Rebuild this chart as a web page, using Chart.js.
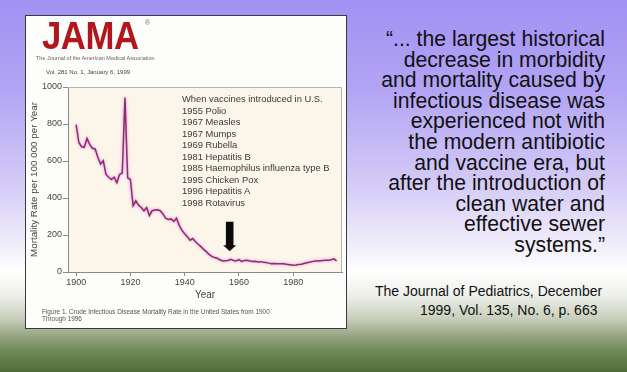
<!DOCTYPE html>
<html lang="en">
<head>
<meta charset="UTF-8">
<title>Crude Infectious Disease Mortality</title>
<script src="https://cdn.jsdelivr.net/npm/chart.js"></script>
<style>
  html, body { margin: 0; padding: 0; }
  body {
    width: 627px; height: 372px; overflow: hidden; position: relative;
    font-family: "Liberation Sans", Arial, sans-serif;
    background: linear-gradient(to bottom,
      #a291f3 0px, #b2a4f4 90px, #d2c9f7 180px, #f3f0fb 250px, #ffffff 272px,
      #eef0ea 295px, #c9cfbd 318px, #96a583 336px, #6d8756 352px, #4f6c38 372px);
  }
  #box {
    position: absolute; left: 25px; top: 15px; width: 322px; height: 314px;
    background: #fdfdfb; border: 1px solid #3a3a3a; box-sizing: border-box;
  }
  #grafica { position: absolute; left: 0; top: 0; }
  .abs { position: absolute; white-space: nowrap; }
  #jama {
    left: 16px; top: -2px; font-size: 39px; font-weight: bold; color: #b3151d;
    transform: scaleX(0.89); transform-origin: left top; letter-spacing: -0.5px;
  }
  #reg { left: 119px; top: 3px; font-size: 7px; color: #777; }
  #journal { left: 10px; top: 39px; font-size: 5.5px; color: #666; }
  #vol { left: 20px; top: 53px; font-size: 6px; color: #444; }
  #vacunas {
    left: 156px; top: 77px; font-size: 9.4px; line-height: 11.55px; color: #3a3a3a;
  }
  #pie { left: 16px; top: 293px; font-size: 6.4px; line-height: 6.6px; color: #555; }
  #cita {
    right: 22px; top: 29px; text-align: right; font-size: 21.2px; line-height: 20.6px;
    color: #111;
  }
  #fuente1 { left: 375px; top: 283px; font-size: 14px; color: #111; }
  #fuente2 { left: 420px; top: 302px; font-size: 14px; color: #111; }
</style>
</head>
<body>
<div id="box">
  <canvas id="grafica" width="320" height="312"></canvas>
  <div class="abs" id="jama">JAMA</div>
  <div class="abs" id="reg">®</div>
  <div class="abs" id="journal">The Journal of the American Medical Association</div>
  <div class="abs" id="vol">Vol. 281 No. 1, January 6, 1999</div>
  <div class="abs" id="vacunas">When vaccines introduced in U.S.<br>1955 Polio<br>1967 Measles<br>1967 Mumps<br>1969 Rubella<br>1981 Hepatitis B<br>1985 Haemophilus influenza type B<br>1995 Chicken Pox<br>1996 Hepatitis A<br>1998 Rotavirus</div>
  <div class="abs" id="pie">Figure 1. Crude Infectious Disease Mortality Rate in the United States from 1900<br>Through 1996</div>
</div>
<div class="abs" id="cita">“... the largest historical<br>decrease in morbidity<br>and mortality caused by<br>infectious disease was<br>experienced not with<br>the modern antibiotic<br>and vaccine era, but<br>after the introduction of<br>clean water and<br>effective sewer<br>systems.”</div>
<div class="abs" id="fuente1">The Journal of Pediatrics, December</div>
<div class="abs" id="fuente2">1999, Vol. 135, No. 6, p. 663</div>
<script>
    // años y tasa de mortalidad (por 100 000)
    const anios = [
        1900, 1901, 1902, 1903, 1904, 1905, 1906, 1907, 1908, 1909,
        1910, 1911, 1912, 1913, 1914, 1915, 1916, 1917, 1918, 1919,
        1920, 1921, 1922, 1923, 1924, 1925, 1926, 1927, 1928, 1929,
        1930, 1931, 1932, 1933, 1934, 1935, 1936, 1937, 1938, 1939,
        1940, 1941, 1942, 1943, 1944, 1945, 1946, 1947, 1948, 1949,
        1950, 1951, 1952, 1953, 1954, 1955, 1956, 1957, 1958, 1959,
        1960, 1961, 1962, 1963, 1964, 1965, 1966, 1967, 1968, 1969,
        1970, 1971, 1972, 1973, 1974, 1975, 1976, 1977, 1978, 1979,
        1980, 1981, 1982, 1983, 1984, 1985, 1986, 1987, 1988, 1989,
        1990, 1991, 1992, 1993, 1994, 1995, 1996
    ];
    const mortalidad = [
        797, 700, 677, 674, 722, 690, 669, 665, 620, 583,
        601, 527, 512, 500, 512, 482, 527, 535, 943, 509,
        500, 358, 385, 362, 349, 331, 349, 305, 331, 335,
        336, 331, 314, 291, 284, 287, 273, 291, 252, 225,
        207, 190, 172, 181, 163, 150, 137, 122, 110, 95,
        84, 78, 74, 66, 60, 61, 62, 69, 62, 60,
        67, 57, 62, 64, 60, 57, 58, 54, 56, 53,
        52, 48, 45, 46, 44, 44, 45, 43, 41, 39,
        37, 38, 40, 42, 46, 50, 53, 56, 59, 60,
        61, 62, 63, 64, 66, 71, 60
    ];
    const ticksX = [1900, 1920, 1940, 1960, 1980];
    const ticksY = [0, 200, 400, 600, 800, 1000];
    const flecha = { anio: 1956.6, desde: 271, hasta: 112 };

    const fuente = "'Liberation Sans', Arial, sans-serif";

    // fondo crema del area y marco superior/derecho
    const marco = {
        id: 'marco',
        beforeDraw(chart) {
            const { ctx, chartArea: a } = chart;
            ctx.save();
            ctx.fillStyle = '#fcf6ea';
            ctx.fillRect(a.left, a.top, a.right - a.left, a.bottom - a.top);
            ctx.restore();
        },
        afterDraw(chart) {
            const { ctx, chartArea: a } = chart;
            ctx.save();
            ctx.strokeStyle = '#b8b4ac';
            ctx.lineWidth = 1;
            ctx.beginPath();
            ctx.moveTo(a.left, a.top + 0.5);
            ctx.lineTo(a.right - 0.5, a.top + 0.5);
            ctx.lineTo(a.right - 0.5, a.bottom);
            ctx.stroke();
            ctx.restore();
        }
    };

    // flecha negra hacia abajo
    const dibujarFlecha = {
        id: 'flecha',
        afterDatasetsDraw(chart) {
            const { ctx, scales: { x, y } } = chart;
            const cx = x.getPixelForValue(flecha.anio);
            const y0 = y.getPixelForValue(flecha.desde);
            const y1 = y.getPixelForValue(flecha.hasta);
            ctx.save();
            ctx.fillStyle = '#0a0a0a';
            ctx.beginPath();
            ctx.moveTo(cx - 3.8, y0);
            ctx.lineTo(cx + 3.8, y0);
            ctx.lineTo(cx + 3.8, y1 - 6);
            ctx.lineTo(cx + 6.5, y1 - 6);
            ctx.lineTo(cx, y1);
            ctx.lineTo(cx - 6.5, y1 - 6);
            ctx.lineTo(cx - 3.8, y1 - 6);
            ctx.closePath();
            ctx.fill();
            ctx.restore();
        }
    };

    // brillo rosado de la linea
    const brillo = {
        id: 'brillo',
        beforeDatasetDraw(chart) {
            chart.ctx.save();
            chart.ctx.shadowColor = 'rgba(235, 110, 210, 0.9)';
            chart.ctx.shadowBlur = 3;
        },
        afterDatasetDraw(chart) {
            chart.ctx.restore();
        }
    };

    const $grafica = document.querySelector('#grafica');
    new Chart($grafica, {
        type: 'line',
        data: {
            datasets: [{
                data: anios.map((a, i) => ({ x: a, y: mortalidad[i] })),
                borderColor: '#8a2d74',
                borderWidth: 1.5,
                pointRadius: 0,
                tension: 0,
                fill: false
            }]
        },
        options: {
            responsive: false,
            animation: false,
            devicePixelRatio: 1,
            layout: { padding: { left: 0, top: 71, right: 4, bottom: 25 } },
            plugins: { legend: { display: false }, tooltip: { enabled: false } },
            scales: {
                x: {
                    type: 'linear',
                    min: 1897,
                    max: 1998,
                    afterBuildTicks: s => { s.ticks = ticksX.map(v => ({ value: v })); },
                    afterFit: s => { s.height = 31; },
                    grid: { drawOnChartArea: false, tickLength: 4, color: '#8a8a8a' },
                    border: { color: '#8a8a8a' },
                    ticks: {
                        color: '#444', padding: 1, font: { family: fuente, size: 9 },
                        callback: v => String(v)
                    },
                    title: {
                        display: true, text: 'Year', color: '#444',
                        font: { family: fuente, size: 10 }, padding: { top: 0, bottom: 2 }
                    }
                },
                y: {
                    min: 0,
                    max: 1000,
                    afterBuildTicks: s => { s.ticks = ticksY.map(v => ({ value: v })); },
                    afterFit: s => { s.width = 42; },
                    grid: { drawOnChartArea: false, tickLength: 5, color: '#8a8a8a' },
                    border: { color: '#8a8a8a' },
                    ticks: {
                        color: '#444', padding: 1, font: { family: fuente, size: 9 },
                        callback: v => String(v)
                    },
                    title: {
                        display: true, text: 'Mortality Rate per 100 000 per Year', color: '#444',
                        font: { family: fuente, size: 9.8 }, padding: { top: 2, bottom: 0 }
                    }
                }
            }
        },
        plugins: [marco, brillo, dibujarFlecha]
    });
</script>
</body>
</html>
